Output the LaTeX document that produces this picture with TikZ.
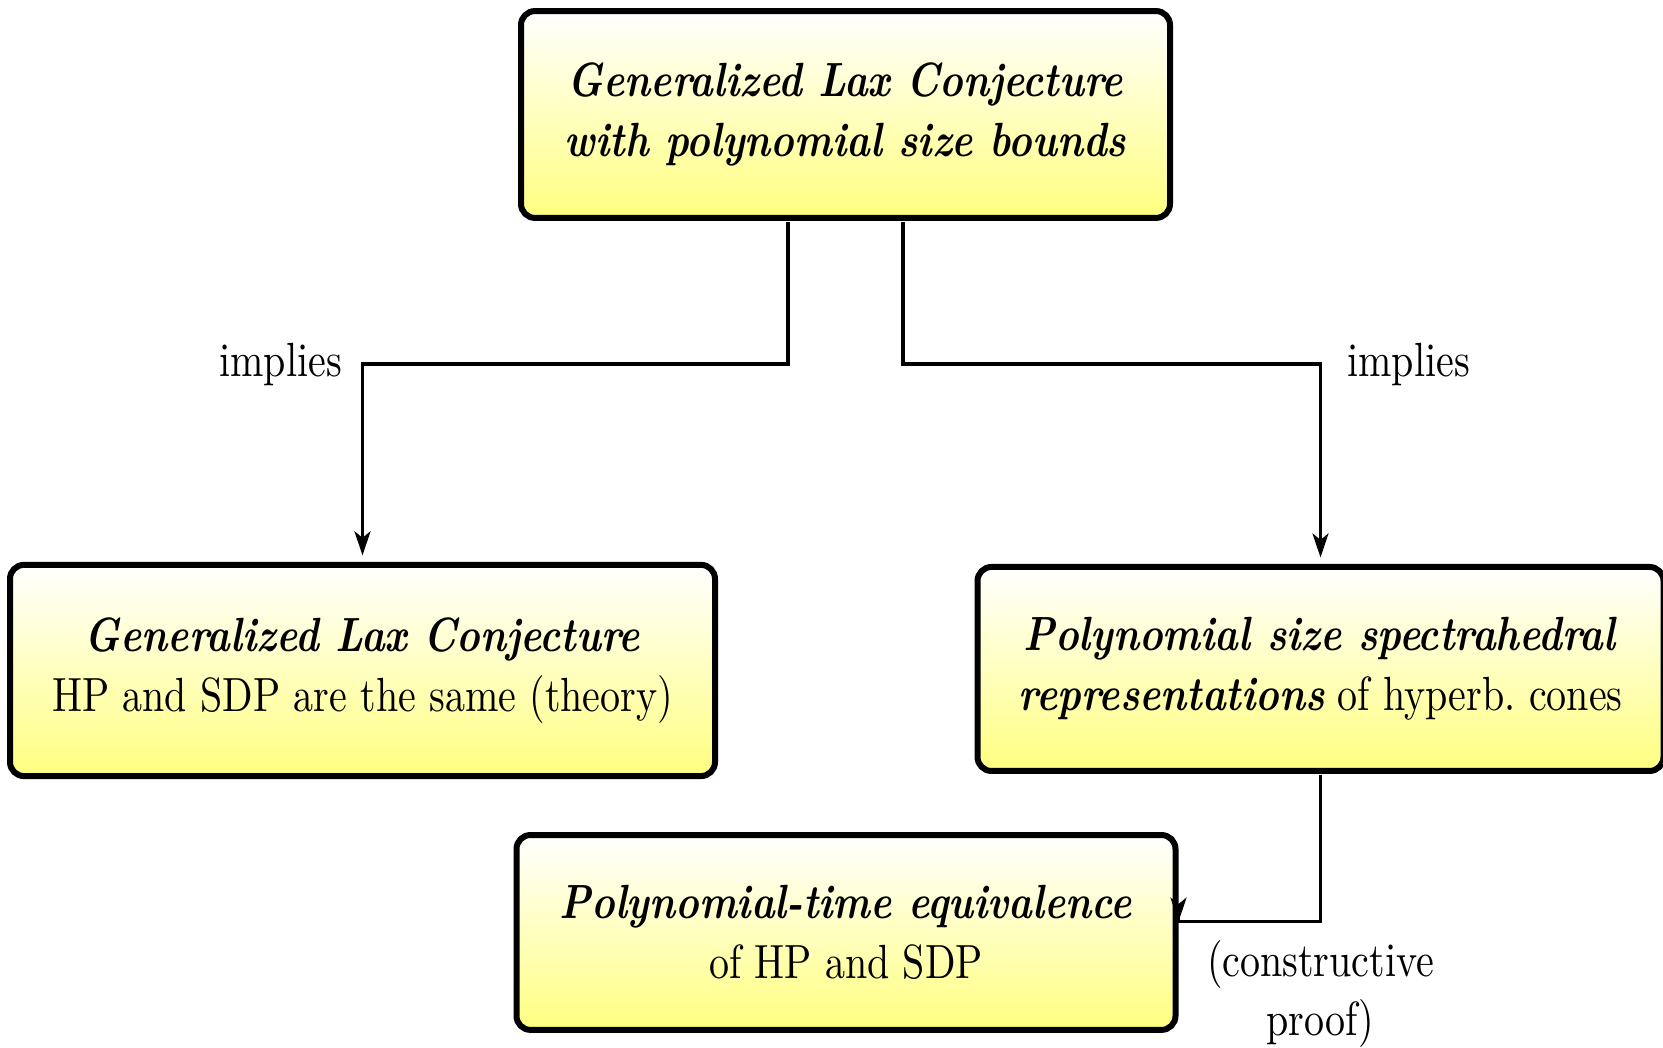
\documentclass[tikz,border=0pt]{standalone}
\usepackage{tikz}
\usetikzlibrary{arrows.meta, positioning}

\newcommand{\bfit}[1]{\textbf{\textit{#1}}}

\tikzset{
  block/.style={draw, line width=1.5pt, rounded corners=3.5pt,
    top color=white, bottom color=yellow!50, align=center, inner sep=0pt},
  link/.style={thick, -{Stealth[length=6pt,width=4pt,inset=1.6pt]}},
}

\begin{document}
\begin{tikzpicture}
	[x=0.25pt, y=-0.208333pt, yscale=1.2, transform shape]
   \useasboundingbox (0,0) rectangle (1663,1048);

   \node[block, minimum width=162.25pt, minimum height=43.1pt] (glcpoly) at (845.5,114.5)
     {\bfit{Generalized Lax Conjecture}\\[0.5pt] \bfit{with polynomial size bounds}};
   \node[block, minimum width=176.25pt, minimum height=44pt] (glc) at (362.5,670.5)
     {\bfit{Generalized Lax Conjecture}\\[0.5pt] HP and SDP are the same (theory)};
   \node[block, minimum width=171.5pt, minimum height=42.5pt] (spectra) at (1320.5,669)
     {\bfit{Polynomial size spectrahedral}\\[0.5pt] \bfit{representations} of hyperb.\ cones};
   \node[block, minimum width=164.75pt, minimum height=40.6pt] (polytime) at (846,932.5)
     {\bfit{Polynomial-time equivalence}\\[0.5pt] of HP and SDP};

   \coordinate (mid) at (0,364);
   \coordinate (cbend) at (0,921);
   \coordinate (tl) at ([xshift=-14.375pt]glcpoly.south);
   \coordinate (tr) at ([xshift=14.375pt]glcpoly.south);

   \draw[link, shorten >=1.5pt] (tl) -- (tl |- mid) -| node[left=1.4pt] {implies} (glc.north);
   \draw[link, shorten >=1.5pt] (tr) -- (tr |- mid) -| node[right=3pt] {implies} (spectra.north);
   \draw[link] (spectra.south) |- node[below=0.3pt, align=center] {(constructive\\[0.3pt] proof)}
     (cbend -| polytime.east) -- ++(0,0.5);
\end{tikzpicture}
\end{document}
